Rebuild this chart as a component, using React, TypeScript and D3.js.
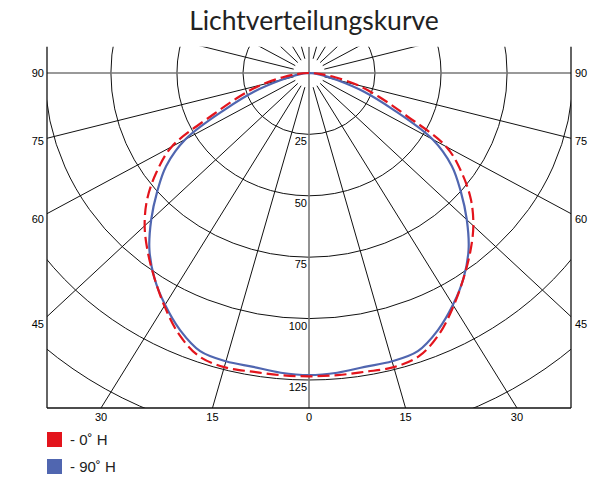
import React, { useEffect, useRef } from 'react';
import * as d3 from 'd3';

// gamma angles (deg from nadir) and intensities
const gammaAngles = [0, 5, 10, 15, 20, 25, 30, 35, 40, 45, 50, 55, 60, 65, 70, 75, 80, 85, 90];
const values0H = [123.5, 123.5, 123.5, 124, 122.5, 117, 109.5, 102, 95, 88, 80, 70.5, 60, 40, 28, 19, 10, 4, 0];
const values90H = [123, 122.5, 121.5, 121.5, 120.5, 115.5, 109, 102, 94, 84.5, 75, 66, 54, 35, 22, 11, 5, 2, 0];

const ringValues = [25, 50, 75, 100, 125, 150];
const ringLabels = [25, 50, 75, 100, 125];
const sideLabels = [90, 75, 60, 45];
const bottomLabels = [-30, -15, 0, 15, 30];

const legendNames = ['- 0\u02DA H', '- 90\u02DA H'];
const colors = ['#e3141c', '#5066b0'];

const W = 608;
const H = 479;
const plot = { left: 47, right: 571, top: 46.7, bottom: 408 };
const domX = 99.2;
const domTop = 10.7;
const domBottom = -136.4;

const rad = (a: number) => (a * Math.PI) / 180;

const App = () => {
    const container = useRef<HTMLDivElement>(null);

    useEffect(() => {
        if (!container.current) return;
        document.body.style.margin = '0';
        d3.select(container.current).selectAll('*').remove();

        const svg = d3.select(container.current)
            .append('svg')
            .attr('width', W)
            .attr('height', H)
            .style('display', 'block')
            .style('background', '#fff');

        const x = d3.scaleLinear().domain([-domX, domX]).range([plot.left, plot.right]);
        const y = d3.scaleLinear().domain([domTop, domBottom]).range([plot.top, plot.bottom]);

        // polar (gamma from nadir, r) -> pixel
        const px = (a: number, r: number) => x(r * Math.sin(rad(a)));
        const py = (a: number, r: number) => y(-r * Math.cos(rad(a)));

        svg.append('text')
            .attr('x', 314)
            .attr('y', 30)
            .attr('text-anchor', 'middle')
            .style('font-family', 'Lato, sans-serif')
            .style('font-size', '26.5px')
            .attr('fill', '#222')
            .text('Lichtverteilungskurve');

        svg.append('clipPath').attr('id', 'plotClip')
            .append('rect')
            .attr('x', plot.left)
            .attr('y', plot.top)
            .attr('width', plot.right - plot.left)
            .attr('height', plot.bottom - plot.top);

        const grid = svg.append('g').attr('clip-path', 'url(#plotClip)');

        grid.selectAll('ellipse')
            .data(ringValues)
            .join('ellipse')
            .attr('cx', x(0))
            .attr('cy', y(0))
            .attr('rx', d => x(d) - x(0))
            .attr('ry', d => y(-d) - y(0))
            .attr('fill', 'none')
            .attr('stroke', '#111')
            .attr('stroke-width', 1);

        const spokes = d3.range(0, 360, 15).filter(a => a % 90 !== 0);
        grid.selectAll('line.spoke')
            .data(spokes)
            .join('line')
            .attr('class', 'spoke')
            .attr('x1', a => px(a, 6))
            .attr('y1', a => py(a, 6))
            .attr('x2', a => px(a, 400))
            .attr('y2', a => py(a, 400))
            .attr('stroke', '#111')
            .attr('stroke-width', 1);

        // center axes
        grid.append('line')
            .attr('x1', plot.left).attr('x2', plot.right)
            .attr('y1', y(0)).attr('y2', y(0))
            .attr('stroke', '#777').attr('stroke-width', 1.6);
        grid.append('line')
            .attr('x1', x(0)).attr('x2', x(0))
            .attr('y1', plot.top).attr('y2', plot.bottom)
            .attr('stroke', '#777').attr('stroke-width', 1.6);

        // frame (no top line)
        const frame = svg.append('g').attr('stroke', '#111').attr('stroke-width', 1.3);
        frame.append('line').attr('x1', plot.left).attr('x2', plot.left).attr('y1', plot.top).attr('y2', plot.bottom);
        frame.append('line').attr('x1', plot.right).attr('x2', plot.right).attr('y1', plot.top).attr('y2', plot.bottom);
        frame.append('line').attr('x1', plot.left).attr('x2', plot.right).attr('y1', plot.bottom).attr('y2', plot.bottom);

        const labelStyle = (sel: any) => sel
            .style('font-family', '"Liberation Sans", Arial, sans-serif')
            .style('font-size', '11px')
            .attr('fill', '#000');

        // ring value labels
        svg.append('g').selectAll('text')
            .data(ringLabels)
            .join('text')
            .attr('x', x(0) - 2)
            .attr('y', d => y(-d) + 11)
            .attr('text-anchor', 'end')
            .call(labelStyle)
            .text(d => d);

        // side angle labels
        const sideY = (a: number) => y(-domX / Math.tan(rad(a))) + 4;
        svg.append('g').selectAll('text')
            .data(sideLabels)
            .join('text')
            .attr('x', plot.left - 3)
            .attr('y', a => sideY(a) + (90 - a) / 6)
            .attr('text-anchor', 'end')
            .call(labelStyle)
            .text(a => a);
        svg.append('g').selectAll('text')
            .data(sideLabels)
            .join('text')
            .attr('x', plot.right + 4)
            .attr('y', a => sideY(a) + (90 - a) / 6)
            .attr('text-anchor', 'start')
            .call(labelStyle)
            .text(a => a);

        // bottom angle labels
        svg.append('g').selectAll('text')
            .data(bottomLabels)
            .join('text')
            .attr('x', a => x(-domBottom * Math.tan(rad(a))))
            .attr('y', plot.bottom + 13)
            .attr('text-anchor', 'middle')
            .call(labelStyle)
            .text(a => Math.abs(a));

        // curves, mirrored C0/C180
        const toPoints = (vals: number[]) => {
            const pts: [number, number][] = [];
            for (let i = gammaAngles.length - 1; i >= 0; i--) pts.push([px(-gammaAngles[i], vals[i]), py(-gammaAngles[i], vals[i])]);
            for (let i = 1; i < gammaAngles.length; i++) pts.push([px(gammaAngles[i], vals[i]), py(gammaAngles[i], vals[i])]);
            return pts;
        };
        const line = d3.line().curve(d3.curveCatmullRom.alpha(0.5));

        svg.append('path')
            .attr('d', line(toPoints(values90H)))
            .attr('fill', 'none')
            .attr('stroke', colors[1])
            .attr('stroke-width', 2.2);

        svg.append('path')
            .attr('d', line(toPoints(values0H)))
            .attr('fill', 'none')
            .attr('stroke', colors[0])
            .attr('stroke-width', 2.2)
            .attr('stroke-dasharray', '12,5');

        // legend
        const legend = svg.append('g');
        legend.selectAll('rect')
            .data(legendNames)
            .join('rect')
            .attr('x', 47)
            .attr('y', (d, i) => 432 + i * 27)
            .attr('width', 15)
            .attr('height', 15)
            .attr('fill', (d, i) => colors[i]);
        legend.selectAll('text')
            .data(legendNames)
            .join('text')
            .attr('x', 70)
            .attr('y', (d, i) => 445 + i * 27)
            .style('font-family', '"Liberation Sans", Arial, sans-serif')
            .style('font-size', '15px')
            .attr('fill', '#222')
            .text(d => d);
    }, []);

    return (<div ref={container} />);
};

export default App;
